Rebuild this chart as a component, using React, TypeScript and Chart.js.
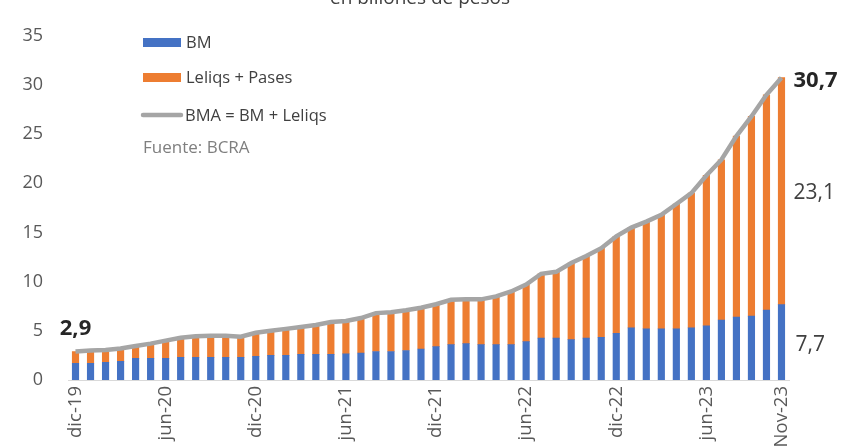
import React, { useEffect, useRef } from "react";
import { Chart, registerables } from "chart.js";

Chart.register(...registerables);

const categories = [
  "dic-19", "ene-20", "feb-20", "mar-20", "abr-20", "may-20", "jun-20", "jul-20", "ago-20", "sep-20", "oct-20", "nov-20",
  "dic-20", "ene-21", "feb-21", "mar-21", "abr-21", "may-21", "jun-21", "jul-21", "ago-21", "sep-21", "oct-21", "nov-21",
  "dic-21", "ene-22", "feb-22", "mar-22", "abr-22", "may-22", "jun-22", "jul-22", "ago-22", "sep-22", "oct-22", "nov-22",
  "dic-22", "ene-23", "feb-23", "mar-23", "abr-23", "may-23", "jun-23", "jul-23", "ago-23", "sep-23", "oct-23", "Nov-23",
];

const tickLabels = ["dic-19", "jun-20", "dic-20", "jun-21", "dic-21", "jun-22", "dic-22", "jun-23", "Nov-23"];

const bmValues = [
  1.7, 1.7, 1.8, 1.9, 2.2, 2.2, 2.2, 2.3, 2.3, 2.3, 2.3, 2.3,
  2.4, 2.5, 2.5, 2.6, 2.6, 2.6, 2.65, 2.75, 2.9, 2.9, 3.0, 3.15,
  3.4, 3.6, 3.7, 3.6, 3.6, 3.6, 3.9, 4.25, 4.25, 4.1, 4.25, 4.35,
  4.75, 5.3, 5.2, 5.2, 5.2, 5.3, 5.5, 6.1, 6.4, 6.5, 7.1, 7.66,
];

const leliqsValues = [
  1.2, 1.3, 1.25, 1.3, 1.25, 1.5, 1.8, 2.0, 2.15, 2.2, 2.2, 2.1,
  2.4, 2.5, 2.7, 2.8, 3.0, 3.3, 3.35, 3.55, 3.9, 4.0, 4.1, 4.2,
  4.3, 4.55, 4.5, 4.6, 4.9, 5.4, 5.8, 6.55, 6.75, 7.8, 8.35, 9.05,
  9.85, 10.2, 10.9, 11.6, 12.7, 13.7, 15.3, 16.3, 18.4, 20.3, 21.9, 23.08,
];

const bmaValues = bmValues.map((v, i) => +(v + leliqsValues[i]).toFixed(2));

const yTicks = [0, 5, 10, 15, 20, 25, 30, 35];

const seriesLabels = ["BM", "Leliqs + Pases", "BMA = BM + Leliqs"];
const sourceText = "Fuente: BCRA";
const titleText = "en billones de pesos";

const BLUE = "#4472C4";
const ORANGE = "#ED7D31";
const GRAY = "#A5A5A5";
const TEXT = "#404040";
const FONT = "'Open Sans', sans-serif";

const fmt = (v: number) => v.toFixed(1).replace(".", ",");

const annotationPlugin = {
  id: "annotations",
  afterDatasetsDraw(chart: any) {
    const { ctx, scales } = chart;
    const x = scales.x;
    const y = scales.y;
    const last = categories.length - 1;
    ctx.save();
    // title (cut at the top)
    ctx.fillStyle = TEXT;
    ctx.font = `19px ${FONT}`;
    ctx.textAlign = "center";
    ctx.textBaseline = "alphabetic";
    ctx.fillText(titleText, 420, 4);

    // first value
    ctx.fillStyle = "#262626";
    ctx.font = `bold 22px ${FONT}`;
    ctx.textAlign = "center";
    ctx.textBaseline = "middle";
    ctx.fillText(fmt(bmaValues[0]), x.getPixelForValue(0), y.getPixelForValue(bmaValues[0]) - 23);

    // last values
    const lx = x.getPixelForValue(last) + 12;
    ctx.textAlign = "left";
    ctx.fillText(fmt(bmaValues[last]), lx, y.getPixelForValue(bmaValues[last]) + 3);
    ctx.fillStyle = TEXT;
    ctx.font = `21px ${FONT}`;
    ctx.fillText(fmt(leliqsValues[last]), lx, y.getPixelForValue(bmValues[last] + leliqsValues[last] / 2) + 2);
    ctx.fillText(fmt(bmValues[last]), lx + 2, y.getPixelForValue(bmValues[last] / 2) + 3);

    // legend
    ctx.font = `16.5px ${FONT}`;
    ctx.fillStyle = BLUE;
    ctx.fillRect(143, 38, 38, 9);
    ctx.fillStyle = ORANGE;
    ctx.fillRect(143, 73, 38, 9);
    ctx.strokeStyle = GRAY;
    ctx.lineWidth = 4.5;
    ctx.lineCap = "round";
    ctx.beginPath();
    ctx.moveTo(143, 115);
    ctx.lineTo(181, 115);
    ctx.stroke();
    ctx.fillStyle = TEXT;
    ctx.textAlign = "left";
    ctx.textBaseline = "middle";
    ctx.fillText(seriesLabels[0], 186, 43);
    ctx.fillText(seriesLabels[1], 186, 78);
    ctx.fillText(seriesLabels[2], 185, 116);
    ctx.fillStyle = "#7F7F7F";
    ctx.font = `17px ${FONT}`;
    ctx.fillText(sourceText, 143, 148);
    ctx.restore();
  },
};

export default function App() {
  const ref = useRef<HTMLCanvasElement | null>(null);

  useEffect(() => {
    if (!ref.current) return;
    const chart = new Chart(ref.current, {
      type: "bar",
      data: {
        labels: categories,
        datasets: [
          {
            type: "line",
            label: seriesLabels[2],
            data: bmaValues,
            borderColor: GRAY,
            backgroundColor: GRAY,
            borderWidth: 4.5,
            pointRadius: 0,
            tension: 0,
            stack: "bma",
            order: 0,
          } as any,
          {
            label: seriesLabels[0],
            data: bmValues,
            backgroundColor: BLUE,
            stack: "a",
            barThickness: 6.5,
            order: 1,
          },
          {
            label: seriesLabels[1],
            data: leliqsValues,
            backgroundColor: ORANGE,
            stack: "a",
            barThickness: 6.5,
            order: 1,
          },
        ],
      },
      options: {
        animation: false,
        responsive: true,
        maintainAspectRatio: false,
        layout: { padding: { left: 8, top: 18, right: 55, bottom: 0 } },
        plugins: {
          legend: { display: false },
          tooltip: { enabled: false },
        },
        scales: {
          x: {
            stacked: true,
            grid: { display: false, drawTicks: false },
            border: { display: true, color: "#D9D9D9", width: 1 },
            ticks: {
              autoSkip: false,
              maxRotation: 90,
              minRotation: 90,
              padding: 6,
              color: "#595959",
              font: { family: FONT, size: 18.5 },
              callback: (_v: any, i: number) => (tickLabels.includes(categories[i]) ? categories[i] : ""),
            },
            afterFit: (scale: any) => {
              scale.height = 68;
            },
          },
          y: {
            stacked: true,
            min: yTicks[0],
            max: yTicks[yTicks.length - 1],
            grid: { display: false, drawTicks: false },
            border: { display: false },
            afterBuildTicks: (scale: any) => {
              scale.ticks = yTicks.map((v) => ({ value: v }));
            },
            ticks: {
              padding: 25,
              color: "#595959",
              font: { family: FONT, size: 18 },
              callback: (v: any) => String(v),
            },
            afterFit: (scale: any) => {
              scale.width = 60;
            },
          },
        },
      },
      plugins: [annotationPlugin],
    });
    return () => chart.destroy();
  }, []);

  return (
    <div style={{ position: "fixed", left: 0, top: 0, width: 844, height: 448, background: "#fff" }}>
      <canvas ref={ref} />
    </div>
  );
}
